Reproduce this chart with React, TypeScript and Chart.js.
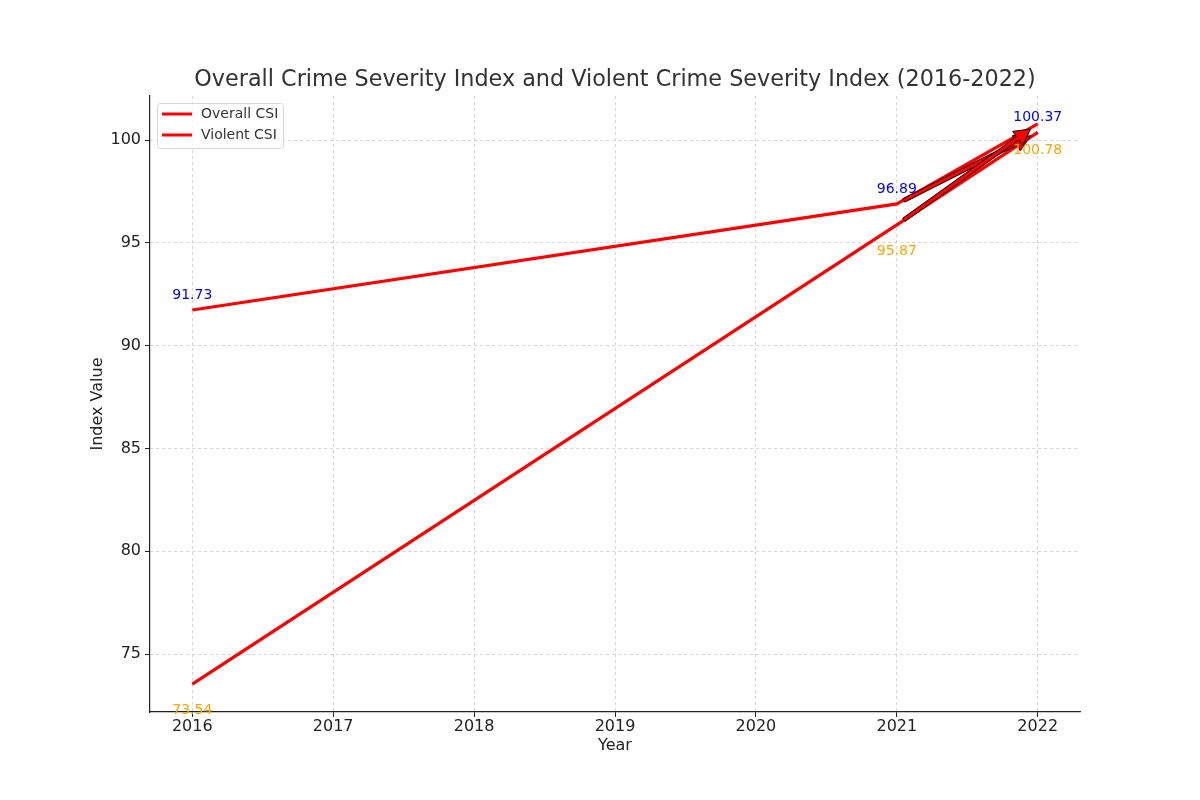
import React, { useEffect, useRef } from "react";
import { Chart, registerables } from "chart.js";

Chart.register(...registerables);

const years = [2016, 2021, 2022];
const overallCsi = [91.73, 96.89, 100.78];
const violentCsi = [73.54, 95.87, 100.37];

// Value annotations (text and anchor value)
const overallNotes = [91.73, 96.89, 100.37];
const violentNotes = [73.54, 95.87, 100.78];

const yTicks = [75, 80, 85, 90, 95, 100];
const xTicks = [2016, 2017, 2018, 2019, 2020, 2021, 2022];

const FONT = "'DejaVu Sans', sans-serif";

function drawArrow(ctx: CanvasRenderingContext2D, x0: number, y0: number, x1: number, y1: number) {
  const dx = x1 - x0;
  const dy = y1 - y0;
  const len = Math.hypot(dx, dy);
  const shrink = 0.05 * len;
  const ux = dx / len;
  const uy = dy / len;
  const sx = x0 + ux * shrink;
  const sy = y0 + uy * shrink;
  const ex = x1 - ux * shrink;
  const ey = y1 - uy * shrink;
  const L = len - 2 * shrink;
  const w = 2;
  const hw = 8.5;
  const hl = 16;
  const px = -uy;
  const py = ux;
  const bx = sx + ux * (L - hl);
  const by = sy + uy * (L - hl);
  ctx.save();
  ctx.beginPath();
  ctx.moveTo(sx + px * w, sy + py * w);
  ctx.lineTo(bx + px * w, by + py * w);
  ctx.lineTo(bx + px * hw, by + py * hw);
  ctx.lineTo(ex, ey);
  ctx.lineTo(bx - px * hw, by - py * hw);
  ctx.lineTo(bx - px * w, by - py * w);
  ctx.lineTo(sx - px * w, sy - py * w);
  ctx.closePath();
  ctx.fillStyle = "#ff0000";
  ctx.fill();
  ctx.strokeStyle = "#000000";
  ctx.lineWidth = 1;
  ctx.stroke();
  ctx.restore();
}

const decorations = {
  id: "decorations",
  afterDatasetsDraw(chart: any) {
    const { ctx, scales } = chart;
    const xs = scales.x;
    const ys = scales.y;

    // arrows from the 2021 values toward the 2022 annotation anchors
    drawArrow(ctx, xs.getPixelForValue(years[1]), ys.getPixelForValue(overallCsi[1]), xs.getPixelForValue(years[2]), ys.getPixelForValue(overallNotes[2]));
    drawArrow(ctx, xs.getPixelForValue(years[1]), ys.getPixelForValue(violentCsi[1]), xs.getPixelForValue(years[2]), ys.getPixelForValue(violentNotes[2]));

    ctx.save();
    ctx.font = `14px ${FONT}`;
    ctx.textAlign = "center";
    ctx.textBaseline = "middle";
    years.forEach((yr, i) => {
      const x = xs.getPixelForValue(yr);
      ctx.fillStyle = "#0000ff";
      ctx.fillText(overallNotes[i].toFixed(2), x, ys.getPixelForValue(overallNotes[i]) - 15);
      ctx.fillStyle = "#ffa500";
      ctx.fillText(violentNotes[i].toFixed(2), x, ys.getPixelForValue(violentNotes[i]) + 26);
    });
    ctx.restore();

    // legend
    ctx.save();
    const lx = 157, ly = 103, lw = 126, lh = 45;
    ctx.beginPath();
    ctx.roundRect(lx + 0.5, ly + 0.5, lw, lh, 3);
    ctx.fillStyle = "rgba(255,255,255,0.8)";
    ctx.fill();
    ctx.strokeStyle = "#d6d6d6";
    ctx.lineWidth = 1;
    ctx.stroke();
    const entries = ["Overall CSI", "Violent CSI"];
    ctx.font = `14px ${FONT}`;
    ctx.textBaseline = "middle";
    entries.forEach((t, i) => {
      const yy = 114 + i * 21;
      ctx.beginPath();
      ctx.moveTo(162, yy);
      ctx.lineTo(192, yy);
      ctx.strokeStyle = "#ff0000";
      ctx.lineWidth = 3;
      ctx.stroke();
      ctx.fillStyle = "#333333";
      ctx.fillText(t, 201, yy);
    });
    ctx.restore();

    // title and axis titles
    ctx.save();
    ctx.fillStyle = "#333333";
    ctx.textAlign = "center";
    ctx.textBaseline = "middle";
    ctx.font = `22.3px ${FONT}`;
    ctx.fillText("Overall Crime Severity Index and Violent Crime Severity Index (2016-2022)", 615, 80);
    ctx.fillStyle = "#222222";
    ctx.font = `16px ${FONT}`;
    ctx.fillText("Year", 615, 746);
    ctx.translate(98, 404);
    ctx.rotate(-Math.PI / 2);
    ctx.fillText("Index Value", 0, 0);
    ctx.restore();
  },
};

export default function App() {
  const ref = useRef<HTMLCanvasElement>(null);

  useEffect(() => {
    if (!ref.current) return;
    const gridCommon = {
      color: "#cccccc",
      lineWidth: 0.8,
      tickLength: 5,
      tickColor: "#222222",
      tickBorderDash: [],
      tickWidth: 1,
    };
    const border = { display: true, color: "#222222", width: 1.2, dash: [3, 3] };
    const chart = new Chart(ref.current, {
      type: "line",
      data: {
        datasets: [
          {
            label: "Overall CSI",
            data: years.map((y, i) => ({ x: y, y: overallCsi[i] })),
            borderColor: "#ff0000",
            backgroundColor: "#ff0000",
            borderWidth: 3.2,
            pointRadius: 0,
            tension: 0,
          },
          {
            label: "Violent CSI",
            data: years.map((y, i) => ({ x: y, y: violentCsi[i] })),
            borderColor: "#ff0000",
            backgroundColor: "#ff0000",
            borderWidth: 3.2,
            pointRadius: 0,
            tension: 0,
          },
        ],
      },
      options: {
        responsive: false,
        animation: false,
        layout: { padding: { left: 0, top: 96, right: 120, bottom: 0 } },
        plugins: {
          legend: { display: false },
          title: { display: false },
          tooltip: { enabled: false },
        },
        scales: {
          x: {
            type: "linear",
            min: 2015.7,
            max: 2022.3,
            afterBuildTicks: (s: any) => {
              s.ticks = xTicks.map((v) => ({ value: v }));
            },
            afterFit: (s: any) => {
              s.height = 88;
            },
            grid: gridCommon,
            border,
            ticks: {
              color: "#222222",
              font: { family: FONT, size: 16 },
              padding: 0,
              maxRotation: 0,
              callback: (v: any) => String(v),
            },
          },
          y: {
            type: "linear",
            min: 72.18,
            max: 102.14,
            afterBuildTicks: (s: any) => {
              s.ticks = yTicks.map((v) => ({ value: v }));
            },
            afterFit: (s: any) => {
              s.width = 150;
            },
            grid: gridCommon,
            border,
            ticks: {
              color: "#222222",
              font: { family: FONT, size: 16 },
              padding: 4,
              callback: (v: any) => String(v),
            },
          },
        },
      },
      plugins: [decorations],
    });
    return () => chart.destroy();
  }, []);

  return (
    <div style={{ position: "fixed", left: 0, top: 0, width: 1200, height: 800, background: "#ffffff" }}>
      <canvas ref={ref} width={1200} height={800} />
    </div>
  );
}
